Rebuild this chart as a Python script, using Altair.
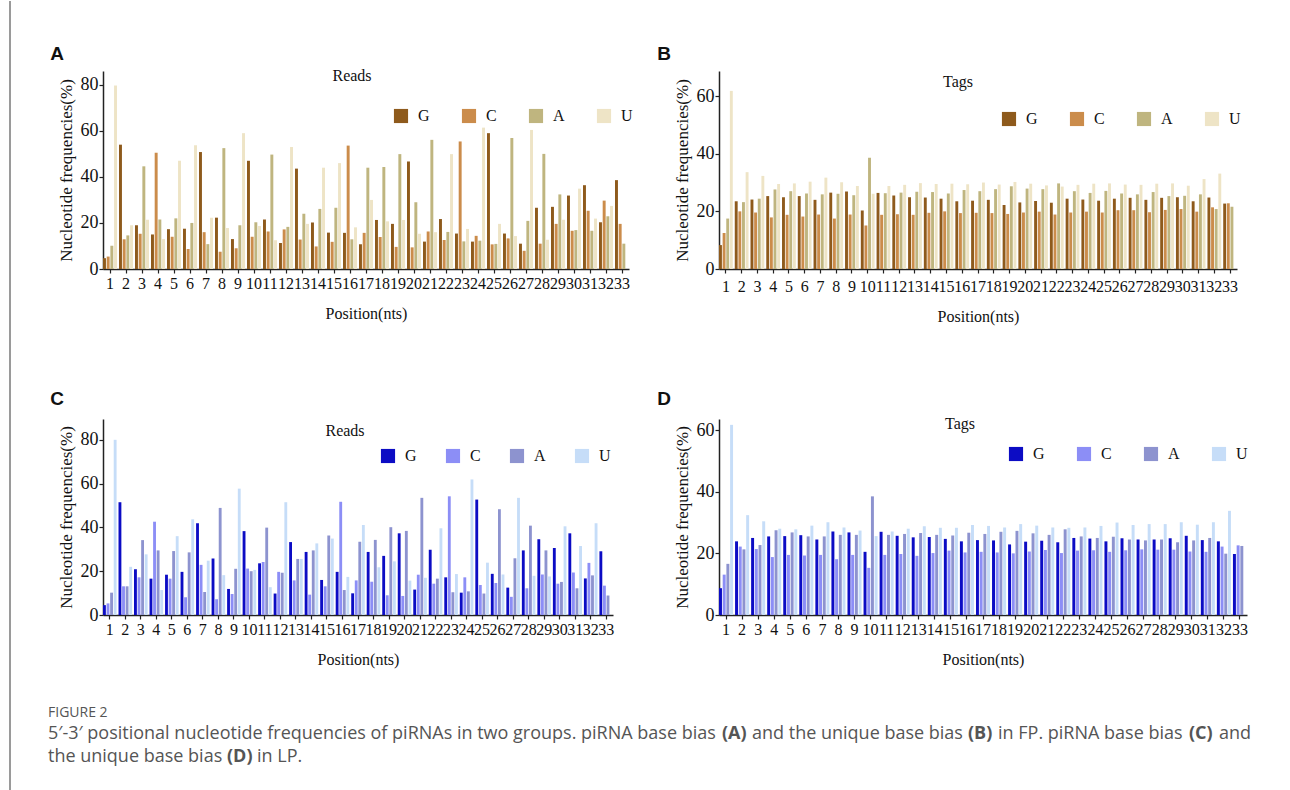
import altair as alt
import pandas as pd

positions = list(range(1, 34))
bases = ["G", "C", "A", "U"]

brown = ["#8e5a1c", "#cb8c4b", "#bfb57f", "#eee4c6"]
blue = ["#0c0cc4", "#8c8ef6", "#8d93cf", "#c6ddf8"]

# Panel A: FP reads
G_A = [4.7, 54.0, 19.0, 15.0, 17.3, 17.5, 50.8, 22.3, 13.0, 47.0, 21.5, 11.3, 43.6, 20.2, 15.8, 15.7, 10.7,
       21.3, 19.6, 46.7, 11.9, 21.7, 15.4, 11.9, 59.0, 15.4, 11.0, 26.6, 27.0, 31.9, 36.4, 20.3, 38.6]
C_A = [5.4, 12.9, 15.3, 50.5, 14.0, 8.7, 16.0, 7.5, 9.0, 14.0, 16.3, 17.2, 12.8, 9.8, 11.8, 53.6, 15.7,
       13.9, 9.6, 9.4, 16.3, 12.6, 55.4, 14.4, 10.7, 13.3, 7.9, 11.0, 19.6, 16.6, 25.3, 29.7, 19.6]
A_A = [10.1, 14.6, 44.6, 21.5, 22.0, 20.0, 10.8, 52.5, 19.0, 20.3, 49.7, 18.3, 24.0, 26.1, 26.6, 12.9, 44.0,
       44.3, 49.9, 29.0, 56.1, 16.1, 12.0, 12.3, 10.9, 56.9, 20.9, 50.0, 32.4, 16.9, 16.6, 22.9, 11.0]
U_A = [79.7, 19.0, 21.4, 13.0, 47.0, 53.8, 22.3, 17.8, 59.0, 18.7, 12.5, 53.0, 19.6, 44.0, 46.0, 18.1, 30.0,
       20.7, 21.3, 15.3, 16.0, 49.9, 17.4, 61.4, 19.6, 14.3, 60.4, 12.7, 21.4, 34.9, 21.9, 27.4, None]

# Panel B: FP tags
G_B = [8.3, 23.5, 24.1, 25.3, 24.9, 25.3, 24.0, 26.5, 26.9, 20.3, 26.4, 25.5, 24.9, 24.8, 24.4, 23.5, 23.7,
       24.0, 22.2, 23.1, 23.6, 23.0, 24.4, 24.1, 23.7, 24.4, 24.7, 24.0, 24.7, 24.9, 23.5, 24.8, 22.7]
C_B = [12.5, 20.0, 19.6, 17.9, 18.8, 18.2, 18.9, 17.5, 18.9, 15.1, 18.8, 19.0, 18.8, 19.5, 20.0, 19.4, 19.5,
       19.4, 19.1, 19.6, 19.9, 18.9, 19.6, 19.9, 19.6, 20.4, 20.4, 19.7, 20.5, 20.8, 19.9, 21.4, 22.8]
A_B = [17.5, 23.2, 24.4, 27.6, 27.0, 26.2, 25.9, 26.1, 25.6, 38.6, 26.3, 26.5, 26.8, 26.7, 26.2, 27.4, 27.0,
       27.7, 28.7, 27.9, 27.7, 29.7, 27.0, 26.4, 27.1, 26.2, 25.9, 26.7, 25.3, 25.4, 25.9, 20.8, 21.6]
U_B = [61.8, 33.6, 32.3, 29.5, 29.7, 30.3, 31.7, 30.1, 28.8, 26.1, 28.8, 29.2, 29.8, 29.5, 29.6, 29.4, 30.0,
       29.3, 30.2, 29.6, 29.0, 28.6, 29.2, 29.6, 29.7, 29.3, 29.2, 29.6, 29.7, 28.9, 31.2, 33.1, None]

# Panel C: LP reads
G_C = [4.5, 51.5, 20.9, 16.6, 18.4, 19.7, 41.9, 25.8, 11.9, 38.3, 23.6, 9.8, 33.3, 28.8, 16.0, 19.7, 9.9,
       28.8, 27.0, 37.3, 11.6, 29.8, 17.2, 10.2, 52.7, 18.8, 12.5, 29.5, 34.6, 30.6, 37.3, 16.7, 29.1]
C_C = [5.3, 13.1, 17.2, 42.6, 16.6, 8.1, 22.9, 7.2, 9.6, 21.2, 24.2, 19.7, 15.8, 9.3, 13.1, 51.7, 15.8,
       15.2, 9.0, 8.7, 18.4, 14.3, 54.2, 17.2, 13.7, 14.6, 8.3, 12.2, 18.5, 14.3, 19.4, 23.8, 13.4]
A_C = [10.2, 13.1, 34.2, 29.5, 29.2, 28.6, 10.5, 48.9, 21.1, 20.0, 39.9, 19.3, 25.6, 29.5, 36.3, 11.4, 33.4,
       34.3, 40.1, 38.4, 53.5, 16.6, 10.4, 10.8, 9.8, 48.3, 25.9, 40.8, 29.5, 15.1, 12.2, 18.1, 8.9]
U_C = [80.0, 22.0, 27.7, 11.4, 36.0, 43.7, 24.8, 18.2, 57.7, 20.6, 12.7, 51.5, 25.6, 32.7, 34.9, 17.4, 41.1,
       21.8, 24.5, 15.7, 17.0, 39.6, 18.7, 61.9, 23.9, 18.5, 53.5, 17.9, 17.6, 40.5, 31.5, 41.9, None]

# Panel D: LP tags
G_D = [8.7, 23.9, 25.0, 25.5, 25.6, 25.9, 24.5, 27.1, 26.8, 20.5, 27.0, 25.7, 25.2, 25.3, 24.7, 23.9, 24.3,
       24.2, 22.9, 23.8, 24.1, 23.6, 25.0, 24.8, 23.9, 24.9, 24.5, 24.5, 24.9, 25.7, 24.3, 23.9, 19.8]
C_D = [13.1, 22.2, 21.4, 18.8, 19.5, 19.3, 19.5, 18.1, 19.5, 15.3, 19.5, 19.8, 19.2, 20.1, 20.9, 20.3, 20.5,
       20.3, 20.0, 20.6, 21.1, 20.1, 20.9, 21.0, 20.5, 21.0, 21.3, 21.2, 21.2, 20.6, 20.5, 22.2, 22.6]
A_D = [16.6, 21.3, 22.7, 27.5, 26.8, 25.5, 25.5, 26.0, 26.0, 38.5, 26.0, 26.3, 26.6, 26.0, 25.8, 26.7, 26.3,
       27.0, 27.3, 26.5, 26.0, 27.8, 25.5, 25.0, 25.4, 24.5, 24.2, 24.5, 23.6, 24.2, 25.0, 19.9, 22.4]
U_D = [61.7, 32.4, 30.4, 28.0, 27.8, 29.0, 30.1, 28.4, 27.4, 25.6, 27.1, 28.0, 28.8, 28.3, 28.3, 29.2, 28.9,
       28.4, 29.5, 29.0, 28.4, 28.3, 28.4, 28.9, 30.0, 29.2, 29.5, 29.5, 30.1, 29.3, 30.1, 33.8, None]

SERIF = "Liberation Serif"
SANS = "Liberation Sans"
CAP_FONT = "Open Sans"


def make_df(g, c, a, u):
    rows = []
    for i, p in enumerate(positions):
        for b, vals in zip(bases, [g, c, a, u]):
            v = vals[i]
            if v is not None:
                rows.append({"pos": p, "base": b, "freq": v})
    return pd.DataFrame(rows)


def text_layer(txt, x, y, font=SERIF, size=16, weight="normal", color="#111", align="center"):
    return alt.Chart(pd.DataFrame({"t": [txt]})).mark_text(
        font=font, fontSize=size, fontWeight=weight, color=color, align=align, baseline="middle"
    ).encode(x=alt.value(x), y=alt.value(y), text="t:N")


def panel(df, colors, ymax, yticks, width, height, title_txt, tx, ty, letter, lx, ly, legx, legy, colpad,
          xlabpad=2, extra=()):
    bars = alt.Chart(df).mark_bar().encode(
        x=alt.X("pos:O", sort=positions,
                scale=alt.Scale(paddingInner=0.125, paddingOuter=0),
                axis=alt.Axis(title="Position(nts)", labelAngle=0, labelOverlap=False,
                              labelFontSize=16, labelPadding=xlabpad, titleFontSize=16, titlePadding=14)),
        xOffset=alt.XOffset("base:N", sort=bases, scale=alt.Scale(domain=bases, paddingInner=0.2)),
        y=alt.Y("freq:Q", scale=alt.Scale(domain=[0, ymax], nice=False, zero=True),
                axis=alt.Axis(title="Nucleotide frequencies(%)", values=yticks, grid=False,
                              labelFontSize=18, labelPadding=1, titleFontSize=17, titlePadding=5)),
        color=alt.Color("base:N", sort=bases,
                        scale=alt.Scale(domain=bases, range=colors),
                        legend=alt.Legend(orient="none", legendX=legx, legendY=legy, direction="horizontal",
                                          title=None, symbolType="square", symbolSize=200,
                                          symbolStrokeWidth=0, symbolOpacity=1,
                                          labelFont=SERIF, labelFontSize=16, labelColor="#111",
                                          labelOffset=9, columnPadding=colpad, padding=0)),
    )
    layers = [bars,
              text_layer(title_txt, tx, ty),
              text_layer(letter, lx, ly, font=SANS, size=19, weight="bold", color="#111")]
    layers.extend(extra)
    return alt.layer(*layers).properties(width=width, height=height)


# left border line and caption (placed relative to panel C)
border = alt.Chart(pd.DataFrame({"a": [0]})).mark_rule(color="#9a9a9a", strokeWidth=2).encode(
    x=alt.value(-93), y=alt.value(-418), y2=alt.value(372))

CAP_SIZE = 18
CAP_COLOR = "#555555"


def cap(txt, x, y, bold=False):
    return text_layer(txt, x, y, font=CAP_FONT, size=CAP_SIZE, weight="bold" if bold else "normal",
                      color=CAP_COLOR, align="left")


caption = [
    border,
    text_layer("FIGURE 2", -55, 294, font=CAP_FONT, size=14, color="#555555", align="left"),
    cap("5\u2032-3\u2032 positional nucleotide frequencies of piRNAs in two groups. piRNA base bias", -55, 315),
    cap("(A)", 619, 315, True),
    cap("and the unique base bias", 649, 315),
    cap("(B)", 865, 315, True),
    cap("in FP. piRNA base bias", 895, 315),
    cap("(C)", 1086, 315, True),
    cap("and", 1116, 315),
    cap("the unique base bias", -55, 338),
    cap("(D)", 124, 338, True),
    cap("in LP.", 154, 338),
]

pA = panel(make_df(G_A, C_A, A_A, U_A), brown, 86, [0, 20, 40, 60, 80], 526, 198,
           "Reads", 249, 5, "A", -46, -17, 290, 37, 31)
pB = panel(make_df(G_B, C_B, A_B, U_B), brown, 68.7, [0, 20, 40, 60], 518, 198,
           "Tags", 239, 11, "B", -55, -17, 282, 40, 31, xlabpad=5)
pC = panel(make_df(G_C, C_C, A_C, U_C), blue, 89.5, [0, 20, 40, 60, 80], 510, 196,
           "Reads", 242, 12, "C", -46, -20, 277, 29, 28, extra=caption)
pD = panel(make_df(G_D, C_D, A_D, U_D), blue, 63.6, [0, 20, 40, 60], 528, 196,
           "Tags", 241, 5, "D", -55, -20, 289, 27, 31)

chart = alt.concat(
    pA, pB, pC, pD, columns=2, spacing={"row": 150, "column": 88}, bounds="flush", align="all"
).resolve_scale(
    x="independent", y="independent", color="independent", xOffset="independent"
).resolve_legend(color="independent").properties(
    padding={"left": 9, "top": 0, "right": 0, "bottom": 0}, background="white"
).configure_view(stroke=None).configure_axis(
    domainColor="#222", domainWidth=1.5, tickColor="#222", tickWidth=1.2, tickSize=4,
    labelFont=SERIF, titleFont=SERIF, labelColor="#111", titleColor="#111", titleFontWeight="normal"
)

chart.save("out.html", embed_options={"renderer": "svg", "actions": False})
